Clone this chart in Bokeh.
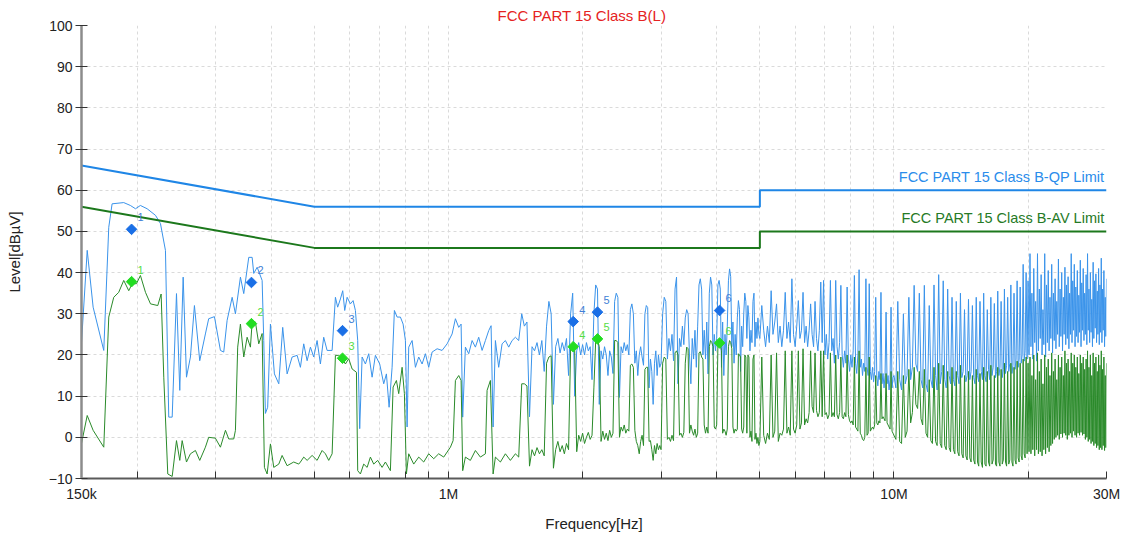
from bokeh.plotting import figure
from bokeh.models import Range1d, FixedTicker
from bokeh.embed import file_html
from bokeh.resources import INLINE
from bokeh.core.properties import value

FONT = "Liberation Sans"

TITLE = "FCC PART 15 Class B(L)"
X_LABEL = "Frequency[Hz]"
Y_LABEL = "Level[dBµV]"

X_MAJOR_TICKS = [150e3, 1e6, 10e6, 30e6]
X_MAJOR_LABELS = ["150k", "1M", "10M", "30M"]
X_MINOR_TICKS = [200e3, 300e3, 400e3, 500e3, 600e3, 700e3, 800e3, 900e3,
                 2e6, 3e6, 4e6, 5e6, 6e6, 7e6, 8e6, 9e6, 20e6]
Y_TICKS = [-10, 0, 10, 20, 30, 40, 50, 60, 70, 80, 90, 100]

QP_LIMIT_NAME = "FCC PART 15 Class B-QP Limit"
QP_LIMIT_FREQ_HZ = [150e3, 500e3, 5e6, 5e6, 30e6]
QP_LIMIT_DB = [66, 56, 56, 60, 60]
AV_LIMIT_NAME = "FCC PART 15 Class B-AV Limit"
AV_LIMIT_FREQ_HZ = [150e3, 500e3, 5e6, 5e6, 30e6]
AV_LIMIT_DB = [56, 46, 46, 50, 50]

# ---- peak trace, 150 kHz .. 1.44 MHz
PEAK_LOW_FREQ_KHZ = [
    150, 154.5, 159.3, 168.3, 172.7, 175.7, 186.6, 193.1, 198.3, 203.4,
    210.6, 219.9, 225.6, 231.5, 235.5, 239.7, 245.1, 249.3, 253.7, 258.1,
    263.4, 268.9, 276.4, 284.6, 289.5, 298.2, 307.6, 312.9, 318.4, 326.8,
    332.4, 341.1, 347, 356.1, 362.4, 365.4, 371.9, 381.6, 384.8, 388.1,
    392.7, 398.3, 406.6, 415.9, 424.4, 434.2, 445.6, 457.3,
    465.1, 473.1, 481.5, 489.8, 498.2, 507, 515.7, 524.6, 533.9, 547.9,
    557.3, 563.9, 571.9, 578.8, 584.8, 592.1, 602.3, 610.7, 618, 625.4,
    631.9, 639.8, 650.8, 662, 673.7, 685.3, 700.7, 715.4, 725.4, 735.6,
    747.1, 756, 766.7, 779.8, 790.8, 800.3, 807.3, 814.1, 828.5, 842.8,
    857.3, 872.4, 887.5, 902.8, 918.7, 942.8, 967.4, 992.7, 1018.8, 1036.3,
    1054.2, 1067.2, 1076.1, 1091.2, 1110.1, 1129.7, 1149.1, 1168.9, 1189.6, 1210.1,
    1230.9, 1246.2, 1259.2, 1274.3, 1296.2, 1319.1, 1341.9, 1365, 1389.1, 1413, 1437.4,
]
PEAK_LOW_DB = [
    23, 45.4, 31.6, 21.1, 51, 56.7, 57, 56.3, 55.5, 56.3,
    55.5, 53.9, 51.9, 45.4, 4.9, 4.9, 34.9, 11.4, 38.9, 14.6,
    19.5, 32, 18.6, 25.1, 28.8, 29.3, 21.1, 20.7, 28.4, 34,
    30, 38.9, 34.9, 43.7, 43.7, 39.8, 41.3, 38.1, 23.5, 5.8,
    7.3, 27.5, 15.4, 13, 26.7, 15.4, 19.5, 19.9,
    17, 22.7, 18.6, 21.9, 19.5, 23.5, 17.8, 24.3, 21.1, 21.1,
    34, 31.6, 33.6, 35.6, 30.8, 34, 32.4, 33.2, 30.8, 23.5,
    2.1, 19.5, 17.8, 20.3, 14.6, 19.9, 17.8, 13, 15.4, 7.3,
    17, 30.8, 29.2, 29.2, 27.5, 23.5, 2.5, 21.9, 23.5, 17,
    19.5, 17.8, 20.3, 17, 20.7, 21.5, 21.1, 22.7, 25.1, 28.8,
    26.7, 27.5, 4.9, 21.9, 20.3, 23.5, 21.9, 24.3, 21.1, 23.5,
    25.9, 27.1, 2.5, 23.5, 17, 22.7, 23.5, 21.9, 23.5, 24.3, 23.5,
]

# ---- average trace, 150 kHz .. 1.44 MHz
AVG_LOW_FREQ_KHZ = [
    150, 154.5, 159.3, 168.3, 172.7, 177.2, 181.8, 186.6, 191.5, 194.9,
    199.3, 203.4, 208.8, 214.3, 222.5, 226.4, 229.5, 234.3, 239.7, 245.1,
    249.3, 252.4, 258.1, 263.4, 270.3, 276.4, 284.6, 289.5, 299.7, 307.6,
    315.7, 321.1, 329.5, 332.4, 336.3, 341.1, 347, 353.1, 359.2, 362.4,
    368.6, 375, 381.6, 386.1, 391.6, 398.3, 405.2, 415.9, 423.1, 434.2, 449.3, 461.1,
    465.1, 473.1, 481.5, 494.1, 507, 520.3, 529.2, 538.4, 547.9, 557.3,
    566.9, 577, 586.9, 597, 607.6, 621.3, 625.4, 634.2, 645.1, 656.6,
    667.8, 679.4, 693.4, 709.4, 721.7, 740.5, 751, 763.9, 773.1, 786.7,
    796.1, 804.4, 814.1, 835.4, 857.3, 879.7, 902.8, 926.4, 950.5, 975.5,
    1009.9, 1024, 1036.3, 1054.2, 1067.2, 1076.1, 1091.2, 1119.6, 1149.1, 1179.2,
    1210.1, 1220.7, 1241.7, 1259.2, 1274.3, 1307.6, 1341.9, 1376.9, 1413, 1437.4,
]
AVG_LOW_DB = [
    -1.5, 5.3, 1.7, -2.4, 29.2, 34, 35.2, 38.1, 35.6, 37.3,
    37.3, 39.3, 35.2, 32.4, 32, 34.8, 14.6, -8.9, -9.5, -0.8,
    -5.6, -0.8, -6, -4, -3.2, -5.6, -2.4, 0, -0.2, -2.4,
    1.7, -0.4, -0.4, 1.7, 21.9, 27.5, 19.5, 24.3, 21.9, 28,
    28, 22.7, 25.2, -7.3, -8.9, -1.6, -7.3, -6.5, -4.4, -6.9, -6, -6.5,
    -6, -4.8, -5.6, -4.4, -5.6, -3.2, -4, -5.6, -4, 19.9,
    19.9, 19.1, 17.8, 19.1, 16.6, 15.8, -8.1, -8.9, -6.5, -7.3,
    -4.8, -6.5, -5.6, -7.3, -6, -8.1, 12.2, 13.8, 10.6, 17,
    10.6, -8.9, -4, -6.5, -4.8, -6, -4, -5.2, -4, -4.8,
    -2.4, -0.8, 13.8, 15, 13.8, -8.1, -4.8, -5.6, -3.2, -4.8,
    -4, 11.4, 13.8, -8.9, -4.8, -6, -4, -5.6, -4, -4.8,
]

# ---- common scan grid 1.46 MHz .. 30 MHz (peak and average)
SCAN_FREQ_MHZ = [
    1.46, 1.48, 1.50, 1.52, 1.54, 1.56, 1.58, 1.60, 1.62, 1.64,
    1.66, 1.68, 1.70, 1.72, 1.74, 1.76, 1.78, 1.80, 1.82, 1.84,
    1.86, 1.88, 1.90, 1.92, 1.94, 1.96, 1.98, 2.00, 2.02, 2.04,
    2.06, 2.08, 2.10, 2.12, 2.14, 2.16, 2.18, 2.20, 2.22, 2.24,
    2.26, 2.28, 2.30, 2.32, 2.34, 2.36, 2.38, 2.40, 2.42, 2.44,
    2.46, 2.48, 2.50, 2.52, 2.54, 2.56, 2.58, 2.60, 2.62, 2.64,
    2.66, 2.68, 2.70, 2.72, 2.74, 2.76, 2.78, 2.80, 2.82, 2.84,
    2.86, 2.88, 2.90, 2.92, 2.94, 2.96, 2.98,
    3.000, 3.025, 3.050, 3.075, 3.100, 3.125, 3.150, 3.175, 3.200, 3.225,
    3.250, 3.275, 3.300, 3.325, 3.350, 3.375, 3.400, 3.425, 3.450, 3.475,
    3.500, 3.525, 3.550, 3.575, 3.600, 3.625, 3.650, 3.675, 3.700, 3.725,
    3.750, 3.775, 3.800, 3.825, 3.850, 3.875, 3.900, 3.925, 3.950, 3.975,
    4.000, 4.025, 4.050, 4.075, 4.100, 4.125, 4.150, 4.175, 4.200, 4.225,
    4.250, 4.275, 4.300, 4.325, 4.350, 4.375, 4.400, 4.425, 4.450, 4.475,
    4.500, 4.525, 4.550, 4.575, 4.600, 4.625, 4.650, 4.675, 4.700, 4.725,
    4.750, 4.775, 4.800, 4.825, 4.850, 4.875, 4.900, 4.925, 4.950, 4.975,
    5.00, 5.05, 5.10, 5.15, 5.20, 5.25, 5.30, 5.35, 5.40, 5.45,
    5.50, 5.55, 5.60, 5.65, 5.70, 5.75, 5.80, 5.85, 5.90, 5.95,
    6.00, 6.05, 6.10, 6.15, 6.20, 6.25, 6.30, 6.35, 6.40, 6.45,
    6.50, 6.55, 6.60, 6.65, 6.70, 6.75, 6.80, 6.85, 6.90, 6.95,
    7.00, 7.05, 7.10, 7.15, 7.20, 7.25, 7.30, 7.35, 7.40, 7.45,
    7.50, 7.55, 7.60, 7.65, 7.70, 7.75, 7.80, 7.85, 7.90, 7.95,
    8.00, 8.05, 8.10, 8.15, 8.20, 8.25, 8.30, 8.35, 8.40, 8.45,
    8.50, 8.55, 8.60, 8.65, 8.70, 8.75, 8.80, 8.85, 8.90, 8.95,
    9.00, 9.05, 9.10, 9.15, 9.20, 9.25, 9.30, 9.35, 9.40, 9.45,
    9.50, 9.55, 9.60, 9.65, 9.70, 9.75, 9.80, 9.85, 9.90, 9.95,
    10.0, 10.1, 10.2, 10.3, 10.4, 10.5, 10.6, 10.7, 10.8, 10.9,
    11.0, 11.1, 11.2, 11.3, 11.4, 11.5, 11.6, 11.7, 11.8, 11.9,
    12.0, 12.1, 12.2, 12.3, 12.4, 12.5, 12.6, 12.7, 12.8, 12.9,
    13.0, 13.1, 13.2, 13.3, 13.4, 13.5, 13.6, 13.7, 13.8, 13.9,
    14.0, 14.1, 14.2, 14.3, 14.4, 14.5, 14.6, 14.7, 14.8, 14.9,
    15.0, 15.1, 15.2, 15.3, 15.4, 15.5, 15.6, 15.7, 15.8, 15.9,
    16.0, 16.1, 16.2, 16.3, 16.4, 16.5, 16.6, 16.7, 16.8, 16.9,
    17.0, 17.1, 17.2, 17.3, 17.4, 17.5, 17.6, 17.7, 17.8, 17.9,
    18.0, 18.1, 18.2, 18.3, 18.4, 18.5, 18.6, 18.7, 18.8, 18.9,
    19.0, 19.1, 19.2, 19.3, 19.4, 19.5, 19.6, 19.7, 19.8, 19.9,
    20.0, 20.1, 20.2, 20.3, 20.4, 20.5, 20.6, 20.7, 20.8, 20.9,
    21.0, 21.1, 21.2, 21.3, 21.4, 21.5, 21.6, 21.7, 21.8, 21.9,
    22.0, 22.1, 22.2, 22.3, 22.4, 22.5, 22.6, 22.7, 22.8, 22.9,
    23.0, 23.1, 23.2, 23.3, 23.4, 23.5, 23.6, 23.7, 23.8, 23.9,
    24.0, 24.1, 24.2, 24.3, 24.4, 24.5, 24.6, 24.7, 24.8, 24.9,
    25.0, 25.1, 25.2, 25.3, 25.4, 25.5, 25.6, 25.7, 25.8, 25.9,
    26.0, 26.1, 26.2, 26.3, 26.4, 26.5, 26.6, 26.7, 26.8, 26.9,
    27.0, 27.1, 27.2, 27.3, 27.4, 27.5, 27.6, 27.7, 27.8, 27.9,
    28.0, 28.1, 28.2, 28.3, 28.4, 28.5, 28.6, 28.7, 28.8, 28.9,
    29.0, 29.1, 29.2, 29.3, 29.4, 29.5, 29.6, 29.7, 29.8, 29.9,
    30.0,
]
PEAK_SCAN_DB = [
    30, 27, 28, 5, 22, 21, 23, 20, 23.5, 16,
    27, 33, 30, 8, 22, 24, 20.5, 23, 21, 24,
    15, 30, 35, 10, 21, 23, 20, 22.5, 20, 23,
    21, 22, 14, 30, 37, 36, 8, 21, 19, 22,
    20, 15, 21, 19.5, 15.5, 33, 35, 34, 9.7, 22,
    20.5, 23, 21, 22.5, 20, 31, 32.4, 30, 18, 21,
    15, 20, 22, 19.5, 17.5, 30, 32, 31.5, 12, 19,
    16, 8, 18, 21, 15, 20, 17,
    18, 30, 34, 33, 19, 24, 21, 25, 18.6, 36,
    38.9, 13, 24, 22, 27, 22.5, 29, 31, 30, 20,
    13, 24, 19, 26, 17, 27, 37, 38.5, 36, 20,
    26, 19, 28, 15.4, 35, 38.9, 37, 20, 25, 21,
    24, 37, 38.1, 36, 17, 28, 15, 25, 20, 27,
    38, 40.9, 39, 22, 28, 18, 25, 20, 29, 33.2,
    31, 16, 27, 22, 30, 35, 33, 24, 32, 29,
    21, 26, 23, 33, 35, 22, 28, 24, 29, 25,
    24, 32, 26, 22, 27, 23, 35.6, 25, 28, 32.4,
    23, 27, 22, 26, 35.2, 24, 28, 23, 38.5, 25,
    22, 27, 33.2, 24, 26, 35.2, 23, 27, 22, 26,
    32.4, 25, 22, 33, 24, 21, 26, 37.7, 23, 38.1,
    20, 25, 19, 23, 38.1, 21, 24, 18, 38.1, 22,
    19, 23, 36.9, 20, 17, 21, 18, 36.5, 19, 16,
    20, 17, 21, 39.3, 18, 15.5, 20, 40.7, 17, 19,
    15, 18, 16, 38.5, 17, 15, 37.3, 16, 14, 17,
    13.5, 16, 34, 15, 12.5, 16, 14, 35.2, 13, 15.5,
    12, 15, 30.4, 13, 15, 11.5, 14, 31.6, 12, 14.5,
    15, 12, 33, 14, 11.5, 30, 13, 15, 34, 14,
    17, 36.9, 17.8, 16, 35, 14, 12, 36.9, 13, 11,
    32, 14, 12, 37, 15, 11.5, 39.5, 13, 16, 38,
    14, 12, 36, 15, 13, 34, 14, 12.5, 33, 15,
    13, 35, 14.5, 16, 31, 13.5, 15, 33.5, 14, 16,
    32, 14.5, 13, 34, 15, 13.5, 33, 16, 14, 35,
    15, 13.5, 31, 16.5, 14, 34, 15, 17, 32.5, 14.5,
    16, 35.5, 15, 17, 33, 14.5, 16.5, 36, 15.5, 17.5,
    34, 16, 18, 37, 15.5, 17.5, 35, 16.5, 19, 38,
    17, 19, 36.5, 18, 20, 42, 18.5, 21, 40, 19,
    38, 20, 44.6, 22, 35, 19, 41, 23, 33, 18.5,
    44.6, 21, 36, 24, 39.5, 20, 31, 22.5, 44.6, 19.5,
    37, 23, 40.5, 21, 34, 24, 42, 20.5, 35, 23.5,
    38.5, 21.5, 33, 25, 43.3, 22, 36, 24.5, 40, 21,
    34, 25, 41.3, 22.5, 37, 24, 39, 21.5, 35, 25,
    44.6, 23, 38, 26, 42, 22, 36.5, 24.5, 40.5, 23,
    34.5, 25.5, 43, 22, 37.5, 26, 41, 23.5, 35, 25,
    39.5, 22.5, 44.6, 26, 36, 23, 40, 25.5, 33.5, 22,
    42.5, 24, 38, 26.5, 39.7, 23, 35.5, 25, 41, 22.5,
    37, 25.5, 43.5, 23, 36, 26, 40.5, 22, 34, 24.5,
    38.5,
]
AVG_SCAN_DB = [
    13, 13, 12.5, -7, -3, -4.5, -2.5, -4, -3, -4.5,
    18, 19.5, 19.8, -7.5, -3, -1, -3.5, -2, -4, -1.5,
    -3, 21.5, 22.5, 21, -3.5, 0.5, -1, 1, -1.5, 0,
    1.2, -0.5, 0.5, 12, 23.5, 23.8, 22, -1, 1.5, -0.5,
    1, -0.8, 1.7, 0, 1, 23.5, 23.5, 23, 0, 2.5,
    1.5, 3, 1, 2, 1.5, 17.5, 17.8, 17, 1.7, -1,
    -2, -4, -1, 0.5, -2, 16.5, 17, 17, -1, -0.8,
    -3, -5.6, -2, -4, -1.5, -3, -2,
    -3, 18, 19.5, 19, -0.5, 0, -1, 0.5, -0.8, 20.5,
    21, 20, 0.5, 1, 0, 1.2, 18, 21.9, 21.5, 1,
    3, 1.5, 0.5, 2, 0, 1, 20.5, 20.8, 19.5, 19,
    3, 1, 2.5, 1, 22, 23.5, 23, 22, 2.5, 2,
    3, 22.5, 22.9, 22.5, 21, 1, 2, 1.5, 0.5, 2,
    22, 23.5, 23, 21.5, 2.5, 1, 2, 1.5, 2, 20.3,
    20, 19.5, 2, 1, 2.5, 20, 19.5, 1, 20, 19.5,
    0, 1.5, -1, 19, 20, -0.5, 1, -1.5, 0, -2,
    -1, 19.5, 0.5, -1.5, 1, -0.5, 20, 0, 1.5, 20.5,
    -1, 1, 0.5, 2, 21, 1, 2.5, 0.5, 21, 2,
    1, 3, 21, 2, 3.5, 21.5, 3, 4.5, 3.5, 6,
    21, 7.5, 6, 20.5, 6.5, 5, 6, 21, 5, 21,
    5.5, 6, 4.5, 5.5, 20.5, 5, 6, 5, 20, 5.5,
    4.5, 6, 19.5, 5, 4.5, 6, 5, 20, 5.5, 4,
    3.5, 4, 3, 19.5, 2.5, 2, 1.5, 21, 1, 0.5,
    -0.5, -0.8, 0, 17, 0.5, 1, 19.5, 1.5, 2, 2.5,
    2, 3, 15, 3.5, 3, 4, 3.5, 15.5, 4.5, 5,
    4.5, 4, 15.5, 3.5, 3, 2.5, 2, 16, 1.5, 1,
    0.5, -0.5, 16, -1, -1.5, 15, 0, 1.5, 16.5, 3.5,
    6, 17, 8, 7, 16, 4.5, 3, 16.5, 1, 0,
    14, -0.8, -1.5, 17, -1, -2, 18, -1.5, -2.5, 17.5,
    -2, -3, 16, -2.5, -3.5, 17, -3, -4, 16, -3.5,
    -4.5, 17.5, -4, -5, 15, -4.5, -5.5, 16, -5, -6,
    15, -5.5, -6.5, 16.5, -6, -7, 15.5, -6, -7.3, 17,
    -6.5, -7, 16, -6, -7, 17.5, -6.5, -5.5, 15, -6.5,
    -7, 17, -6, -7, 16.5, -6.5, -5.5, 18, -6, -7,
    16, -6.5, -5.5, 18, -6, -7, 17, -5.5, -6.5, 18.5,
    -5, -6, 18, -4.5, -5.5, 19, -4, -5, 19.5, -4,
    18, -3.5, 19.5, -4, 15, -3, 20, -4.5, 14, -3,
    20.5, -4, 16, -3.5, 19, -4.5, 13, -3, 20, -4,
    17, -2.5, 19, -3.5, 15, -2, 20.5, -1.5, 16, -0.5,
    19, 0, 14, 0.5, 20, -0.5, 17, 0.8, 19.5, 0,
    15, 1, 21, 0.5, 18, -0.5, 19, 0.5, 16, 1,
    20.5, 0, 18, 1.5, 20, 0.5, 17, 0, 19.5, 1,
    15.5, 0.5, 20, 1.2, 18, 0.5, 19.5, 0.8, 16.5, -0.5,
    19, 0, 21, -1, 17, -0.5, 20, -1.5, 15, -1,
    20.5, -2, 18, -1.5, 19.5, -2.5, 16, -2, 20, -3,
    17.5, -2.5, 21, -3, 16.5, -2, 19.5, -3.2, 15, -2.5,
    18,
]

# ---- final measurement markers
MARKER_NO = ["1", "2", "3", "4", "5", "6"]
MARKER_FREQ_KHZ = [194.3, 361.1, 578.2, 1905, 2160, 4060]
MARKER_QP_DB = [50.5, 37.6, 25.9, 28.1, 30.4, 30.8]
MARKER_AV_DB = [37.8, 27.6, 19.2, 22.0, 23.9, 22.9]

# ---------------------------------------------------------------
peak_f = [f * 1e3 for f in PEAK_LOW_FREQ_KHZ] + [f * 1e6 for f in SCAN_FREQ_MHZ]
peak_db = PEAK_LOW_DB + PEAK_SCAN_DB
avg_f = [f * 1e3 for f in AVG_LOW_FREQ_KHZ] + [f * 1e6 for f in SCAN_FREQ_MHZ]
avg_db = AVG_LOW_DB + AVG_SCAN_DB
mark_f = [f * 1e3 for f in MARKER_FREQ_KHZ]

p = figure(width=1123, height=535, x_axis_type="log",
           x_range=Range1d(X_MAJOR_TICKS[0], X_MAJOR_TICKS[-1]),
           y_range=Range1d(Y_TICKS[0], Y_TICKS[-1]),
           output_backend="svg", toolbar_location=None,
           min_border_left=81, min_border_right=17,
           min_border_top=25, min_border_bottom=57)
p.outline_line_color = None
p.background_fill_color = "white"
p.border_fill_color = "white"

# title
p.title.text = TITLE
p.title.align = "left"
p.title.offset = 416
p.title.standoff = 3
p.title.text_color = "#e52222"
p.title.text_font = FONT
p.title.text_font_size = "15px"
p.title.text_font_style = "normal"

# traces
p.line(peak_f, peak_db, line_color="#3a93ea", line_width=1)
p.line(avg_f, avg_db, line_color="#2a8a2a", line_width=1)
# limits
p.line(QP_LIMIT_FREQ_HZ, QP_LIMIT_DB, line_color="#1f86e6", line_width=2)
p.line(AV_LIMIT_FREQ_HZ, AV_LIMIT_DB, line_color="#1c781c", line_width=2)

p.text(x=[QP_LIMIT_FREQ_HZ[-1]], y=[QP_LIMIT_DB[-1]], text=[QP_LIMIT_NAME],
       text_align="right", text_baseline="bottom", x_offset=-2, y_offset=-5,
       text_font=value(FONT), text_font_size="14.5px", text_color="#2a8ceb")
p.text(x=[AV_LIMIT_FREQ_HZ[-1]], y=[AV_LIMIT_DB[-1]], text=[AV_LIMIT_NAME],
       text_align="right", text_baseline="bottom", x_offset=-2, y_offset=-5,
       text_font=value(FONT), text_font_size="14.5px", text_color="#267a26")

# markers
p.scatter(mark_f, MARKER_QP_DB, marker="square", angle=0.7854, size=7.5,
          fill_color="#1a6fe6", line_color="#1a6fe6")
p.scatter(mark_f, MARKER_AV_DB, marker="square", angle=0.7854, size=7.5,
          fill_color="#22dd22", line_color="#22dd22")
p.text(x=mark_f, y=MARKER_QP_DB, text=MARKER_NO, x_offset=6, y_offset=-12,
       text_baseline="middle", text_font=value(FONT), text_font_size="11px",
       text_color="#3f7fd6")
p.text(x=mark_f, y=MARKER_AV_DB, text=MARKER_NO, x_offset=6, y_offset=-12,
       text_baseline="middle", text_font=value(FONT), text_font_size="11px",
       text_color="#55dd44")

# axes
xt = FixedTicker(ticks=X_MAJOR_TICKS, minor_ticks=X_MINOR_TICKS)
xa = p.xaxis[0]
xa.ticker = xt
xa.major_label_overrides = {t: l for t, l in zip(X_MAJOR_TICKS, X_MAJOR_LABELS)}
xa.major_tick_in = 7
xa.major_tick_out = 0
xa.minor_tick_in = 7
xa.minor_tick_out = 0
xa.major_tick_line_color = "#333333"
xa.minor_tick_line_color = "#333333"
xa.axis_line_color = "#5a5a5a"
xa.axis_line_width = 2
xa.major_label_standoff = 7
xa.major_label_text_font = FONT
xa.major_label_text_font_size = "14px"
xa.major_label_text_color = "#222222"
xa.axis_label = X_LABEL
xa.axis_label_standoff = 10
xa.axis_label_text_font = FONT
xa.axis_label_text_font_size = "15px"
xa.axis_label_text_font_style = "normal"
xa.axis_label_text_color = "#222222"

yt = FixedTicker(ticks=Y_TICKS)
ya = p.yaxis[0]
ya.ticker = yt
ya.major_tick_in = 6
ya.major_tick_out = 6
ya.minor_tick_line_color = None
ya.major_tick_line_color = "#333333"
ya.axis_line_color = "#8c8c8c"
ya.axis_line_width = 2.5
ya.major_label_standoff = 3
ya.major_label_text_font = FONT
ya.major_label_text_font_size = "14px"
ya.major_label_text_color = "#222222"
ya.axis_label = Y_LABEL
ya.axis_label_standoff = 23
ya.axis_label_text_font = FONT
ya.axis_label_text_font_size = "15px"
ya.axis_label_text_font_style = "normal"
ya.axis_label_text_color = "#222222"

# grid
p.xgrid.ticker = xt
p.xgrid.grid_line_color = "#dadada"
p.xgrid.grid_line_dash = "3 3"
p.xgrid.minor_grid_line_color = "#dadada"
p.xgrid.minor_grid_line_dash = "3 3"
p.ygrid.ticker = yt
p.ygrid.grid_line_color = "#dadada"
p.ygrid.grid_line_dash = "3 3"

open("out.html", "w").write(file_html(p, INLINE))
